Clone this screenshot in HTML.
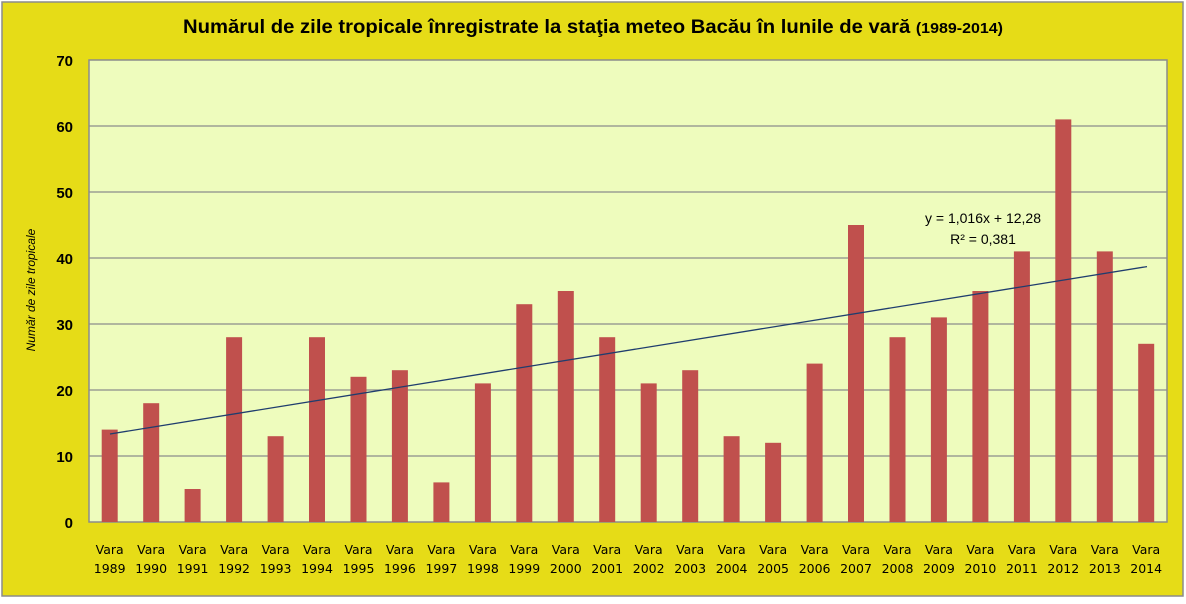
<!DOCTYPE html>
<html><head><meta charset="utf-8"><style>
body{margin:0;background:#fff;}
</style></head><body>
<svg width="1186" height="599" xmlns="http://www.w3.org/2000/svg" font-family="'Liberation Sans',sans-serif">
<rect x="2" y="2" width="1181" height="594" fill="#e6dc17" stroke="#8c8c8c" stroke-width="1.5"/>
<rect x="89" y="60" width="1078" height="462" fill="#eefcbd" stroke="#8c8c8c" stroke-width="1.5"/>
<g stroke="#8c8c8c" stroke-width="1.2">
<line x1="89" x2="1167" y1="126" y2="126"/><line x1="89" x2="1167" y1="192" y2="192"/>
<line x1="89" x2="1167" y1="258" y2="258"/><line x1="89" x2="1167" y1="324" y2="324"/>
<line x1="89" x2="1167" y1="390" y2="390"/><line x1="89" x2="1167" y1="456" y2="456"/>
</g>
<g font-weight="bold" font-size="15" text-anchor="end" fill="#000">
<text x="73" y="66">70</text><text x="73" y="132">60</text><text x="73" y="198">50</text>
<text x="73" y="264">40</text><text x="73" y="330">30</text><text x="73" y="396">20</text>
<text x="73" y="462">10</text><text x="73" y="528">0</text>
</g>
<text x="593" y="33" text-anchor="middle" font-weight="bold" font-size="19" textLength="820" lengthAdjust="spacingAndGlyphs">Numărul de zile tropicale înregistrate la staţia meteo Bacău în lunile de vară <tspan font-size="15">(1989-2014)</tspan></text>
<text transform="translate(35,290) rotate(-90)" text-anchor="middle" font-style="italic" font-size="12">Număr de zile tropicale</text>
<g fill="#c0504d">
<rect x="101.7" y="429.6" width="16" height="92.4"/>
<rect x="143.2" y="403.2" width="16" height="118.8"/>
<rect x="184.6" y="489" width="16" height="33"/>
<rect x="226.1" y="337.2" width="16" height="184.8"/>
<rect x="267.6" y="436.2" width="16" height="85.8"/>
<rect x="309.0" y="337.2" width="16" height="184.8"/>
<rect x="350.5" y="376.8" width="16" height="145.2"/>
<rect x="391.9" y="370.2" width="16" height="151.8"/>
<rect x="433.4" y="482.4" width="16" height="39.6"/>
<rect x="474.9" y="383.4" width="16" height="138.6"/>
<rect x="516.3" y="304.2" width="16" height="217.8"/>
<rect x="557.8" y="291" width="16" height="231"/>
<rect x="599.2" y="337.2" width="16" height="184.8"/>
<rect x="640.7" y="383.4" width="16" height="138.6"/>
<rect x="682.2" y="370.2" width="16" height="151.8"/>
<rect x="723.6" y="436.2" width="16" height="85.8"/>
<rect x="765.1" y="442.8" width="16" height="79.2"/>
<rect x="806.6" y="363.6" width="16" height="158.4"/>
<rect x="848.0" y="225" width="16" height="297"/>
<rect x="889.5" y="337.2" width="16" height="184.8"/>
<rect x="930.9" y="317.4" width="16" height="204.6"/>
<rect x="972.4" y="291" width="16" height="231"/>
<rect x="1013.9" y="251.4" width="16" height="270.6"/>
<rect x="1055.3" y="119.4" width="16" height="402.6"/>
<rect x="1096.8" y="251.4" width="16" height="270.6"/>
<rect x="1138.2" y="343.8" width="16" height="178.2"/>
</g>
<g font-family="'DejaVu Sans',sans-serif" font-size="12.5" text-anchor="middle" fill="#000">
<text x="109.7" y="554">Vara</text><text x="109.7" y="573">1989</text>
<text x="151.2" y="554">Vara</text><text x="151.2" y="573">1990</text>
<text x="192.6" y="554">Vara</text><text x="192.6" y="573">1991</text>
<text x="234.1" y="554">Vara</text><text x="234.1" y="573">1992</text>
<text x="275.6" y="554">Vara</text><text x="275.6" y="573">1993</text>
<text x="317.0" y="554">Vara</text><text x="317.0" y="573">1994</text>
<text x="358.5" y="554">Vara</text><text x="358.5" y="573">1995</text>
<text x="399.9" y="554">Vara</text><text x="399.9" y="573">1996</text>
<text x="441.4" y="554">Vara</text><text x="441.4" y="573">1997</text>
<text x="482.9" y="554">Vara</text><text x="482.9" y="573">1998</text>
<text x="524.3" y="554">Vara</text><text x="524.3" y="573">1999</text>
<text x="565.8" y="554">Vara</text><text x="565.8" y="573">2000</text>
<text x="607.2" y="554">Vara</text><text x="607.2" y="573">2001</text>
<text x="648.7" y="554">Vara</text><text x="648.7" y="573">2002</text>
<text x="690.2" y="554">Vara</text><text x="690.2" y="573">2003</text>
<text x="731.6" y="554">Vara</text><text x="731.6" y="573">2004</text>
<text x="773.1" y="554">Vara</text><text x="773.1" y="573">2005</text>
<text x="814.6" y="554">Vara</text><text x="814.6" y="573">2006</text>
<text x="856.0" y="554">Vara</text><text x="856.0" y="573">2007</text>
<text x="897.5" y="554">Vara</text><text x="897.5" y="573">2008</text>
<text x="938.9" y="554">Vara</text><text x="938.9" y="573">2009</text>
<text x="980.4" y="554">Vara</text><text x="980.4" y="573">2010</text>
<text x="1021.9" y="554">Vara</text><text x="1021.9" y="573">2011</text>
<text x="1063.3" y="554">Vara</text><text x="1063.3" y="573">2012</text>
<text x="1104.8" y="554">Vara</text><text x="1104.8" y="573">2013</text>
<text x="1146.2" y="554">Vara</text><text x="1146.2" y="573">2014</text>
</g>
<line x1="110" y1="434" x2="1147" y2="266.6" stroke="#1f3d6e" stroke-width="1.3"/>
<text x="983" y="223" text-anchor="middle" font-size="14">y = 1,016x + 12,28</text>
<text x="983" y="244" text-anchor="middle" font-size="14">R² = 0,381</text>
</svg>
</body></html>
